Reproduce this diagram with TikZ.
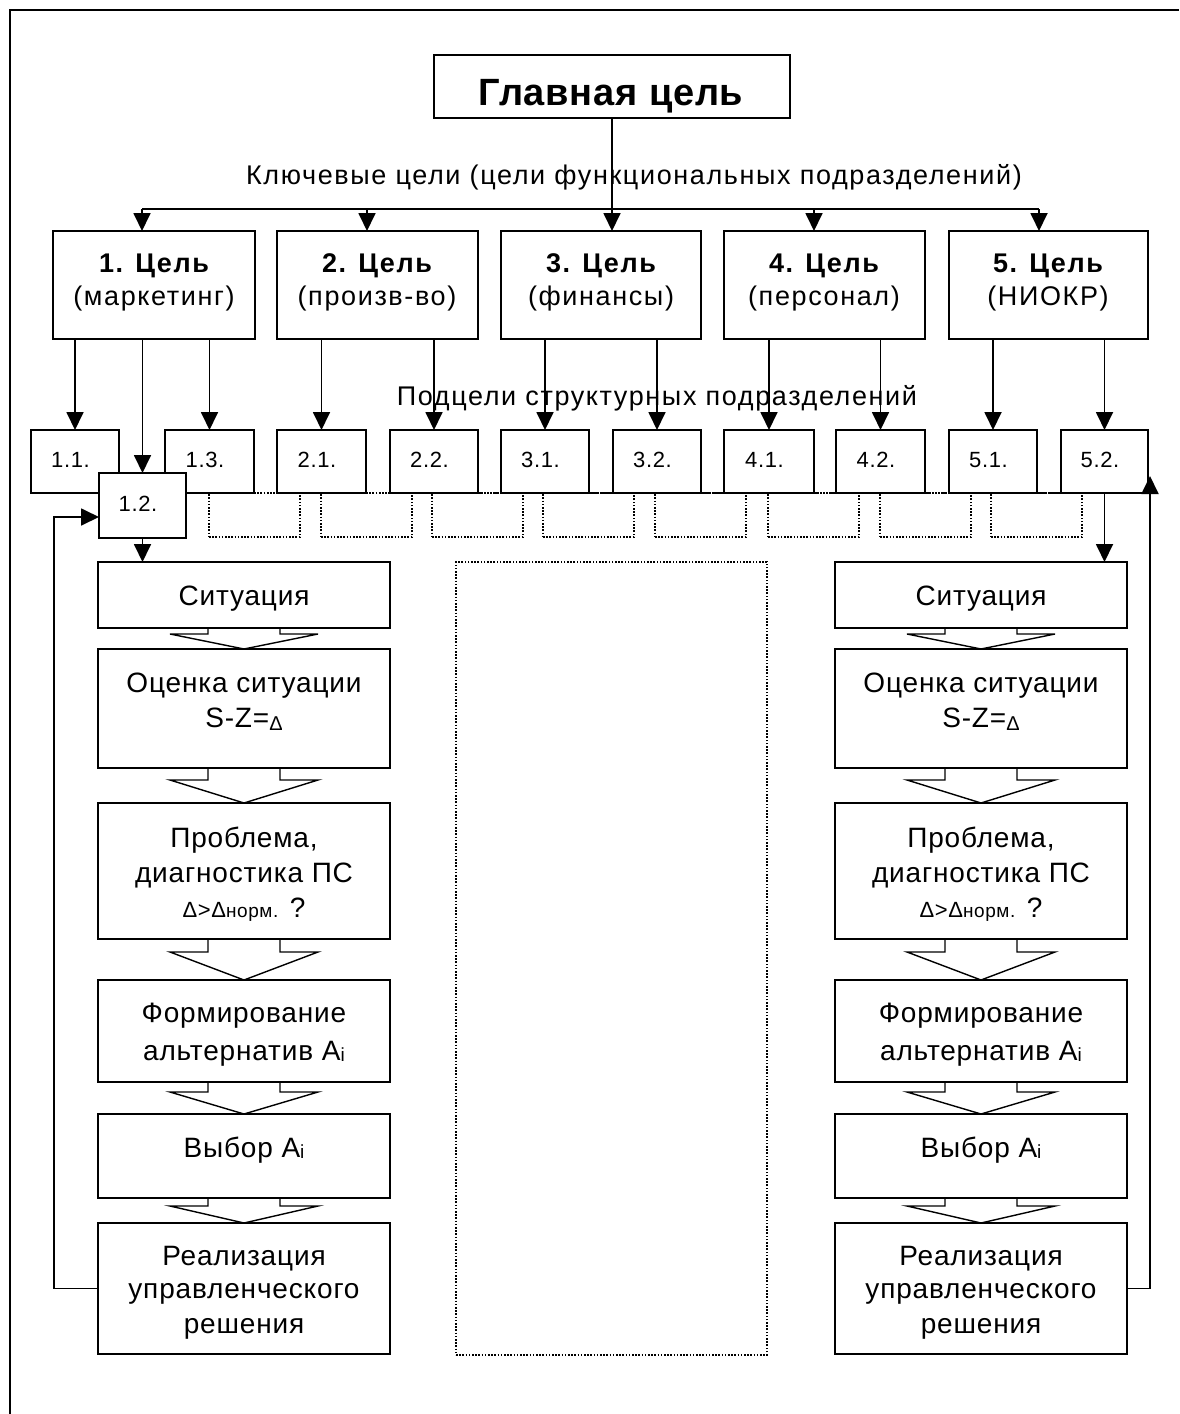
\documentclass[tikz,border=0pt]{standalone}
\usepackage{fontspec}
\setmainfont{Liberation Sans}
\newfontfamily\fkey[LetterSpace=6]{Liberation Sans}
\newfontfamily\fproc[LetterSpace=3]{Liberation Sans}
\newfontfamily\ftitle[LetterSpace=2]{Liberation Sans}
\usetikzlibrary{arrows.meta,calc}
\newcommand\mkbox[7]{\node[#1,minimum width=#5-#3,minimum height=#6-#4,anchor=north west] (#2) at (#3,#4) {#7};}
\newcommand\hollow[3]{\draw[harrow] ($(#1.south)+(-36,0)$) -- ++(0,#3) -- ++(-38,0) -- (#2.north) -- ($(#1.south)+(74,#3)$) -- ++(-38,0) -- ++(0,-#3);}
\newcommand\dsm{\raisebox{-3pt}{\fontsize{20}{20}\selectfont Δ}}
\newcommand\isub{\raisebox{-1pt}{\fontsize{19}{19}\selectfont i}}
\begin{document}
\begin{tikzpicture}[x=1pt,y=-1pt,
  ln/.style={line width=1.8pt},
  arr/.style={ln,-{Triangle[length=18pt,width=17pt]}},
  box/.style={draw,line width=1.8pt,fill=white,inner sep=0pt,outer sep=0pt},
  dbox/.style={draw,line width=1.6pt,dash pattern=on 1.6pt off 1.6pt,inner sep=0pt,outer sep=0pt},
  dline/.style={line width=1.6pt,dash pattern=on 1.6pt off 1.6pt},
  sub/.style={box,text height=11pt,text depth=0pt,font=\fproc\fontsize{22}{26}\selectfont},
  keytxt/.style={inner sep=0pt,anchor=base,font=\fkey\fontsize{27}{31}\selectfont},
  keybold/.style={inner sep=0pt,anchor=base,font=\fkey\bfseries\fontsize{27}{31}\selectfont},
  titletxt/.style={inner sep=0pt,anchor=base,font=\ftitle\bfseries\fontsize{38}{44}\selectfont},
  ptxt/.style={inner sep=0pt,anchor=base,font=\fproc\fontsize{28}{34}\selectfont},
  harrow/.style={line width=1.4pt,line join=miter}]
\useasboundingbox (0,0) rectangle (1179,1414);
\fill[white] (0,0) rectangle (1179,1414);
\draw[ln] (10,1414) -- (10,10) -- (1179,10);

% main goal
\mkbox{box}{main}{434}{55}{790}{118}{}
\node[titletxt] (maint) at (611,105) {Главная цель};

% labels
\node[keytxt] (ktxt) at (634,184) {Ключевые цели (цели функциональных подразделений)};
\node[keytxt] (stxt) at (657,405) {Подцели структурных подразделений};

% key goals
\mkbox{box}{g1}{53}{231}{255}{339}{}
\mkbox{box}{g2}{277}{231}{478}{339}{}
\mkbox{box}{g3}{501}{231}{701}{339}{}
\mkbox{box}{g4}{724}{231}{925}{339}{}
\mkbox{box}{g5}{949}{231}{1148}{339}{}
\node[keybold] (g1a) at (154,272) {1. Цель};
\node[keytxt] (g1b) at (154,305) {(маркетинг)};
\node[keybold] (g2a) at (377,272) {2. Цель};
\node[keytxt] (g2b) at (377,305) {(произв-во)};
\node[keybold] (g3a) at (601,272) {3. Цель};
\node[keytxt] (g3b) at (601,305) {(финансы)};
\node[keybold] (g4a) at (824,272) {4. Цель};
\node[keytxt] (g4b) at (824,305) {(персонал)};
\node[keybold] (g5a) at (1048,272) {5. Цель};
\node[keytxt] (g5b) at (1048,305) {(НИОКР)};

% connectors main -> key goals
\coordinate (b1) at (142,209);
\coordinate (b2) at (367,209);
\coordinate (b4) at (814,209);
\coordinate (b5) at (1039,209);
\draw[ln] (b1) -- (b5);
\draw[arr] (main.south) -- (main.south |- g3.north);
\draw[arr] (b1) -- (b1 |- g1.north);
\draw[arr] (b2) -- (b2 |- g2.north);
\draw[arr] (b4) -- (b4 |- g4.north);
\draw[arr] (b5) -- (b5 |- g5.north);

% dotted boxes
\foreach \i/\xa in {1/209,2/321,3/432,4/543,5/655,6/768,7/880,8/991}
  {\mkbox{dbox}{d\i}{\xa}{493}{\xa+91}{537}{}}
\mkbox{dbox}{big}{456}{562}{767}{1355}{}

% sub goals
\mkbox{sub}{s11}{31}{430}{119}{493}{1.1.\kern9pt}
\mkbox{sub}{s13}{165}{430}{254}{493}{1.3.\kern9pt}
\mkbox{sub}{s21}{277}{430}{366}{493}{2.1.\kern9pt}
\mkbox{sub}{s22}{390}{430}{478}{493}{2.2.\kern9pt}
\mkbox{sub}{s31}{501}{430}{589}{493}{3.1.\kern9pt}
\mkbox{sub}{s32}{613}{430}{701}{493}{3.2.\kern9pt}
\mkbox{sub}{s41}{724}{430}{814}{493}{4.1.\kern9pt}
\mkbox{sub}{s42}{836}{430}{925}{493}{4.2.\kern9pt}
\mkbox{sub}{s51}{949}{430}{1037}{493}{5.1.\kern9pt}
\mkbox{sub}{s52}{1061}{430}{1148}{493}{5.2.\kern9pt}
\draw[dline] (s13.south east) -- (s52.south west);
\mkbox{sub}{s12}{99}{473}{186}{538}{1.2.\kern9pt}

\foreach \s/\g in {s11/g1,s13/g1,s21/g2,s22/g2,s31/g3,s32/g3,s41/g4,s42/g4,s51/g5,s52/g5}
  {\draw[arr] (\s.north |- \g.south) -- (\s.north);}
\draw[arr] (s12.north |- g1.south) -- (s12.north);

% process columns
\foreach \s/\xa/\xb in {L/98/390,R/835/1127}{
  \mkbox{box}{\s1}{\xa}{562}{\xb}{628}{}
  \mkbox{box}{\s2}{\xa}{649}{\xb}{768}{}
  \mkbox{box}{\s3}{\xa}{803}{\xb}{939}{}
  \mkbox{box}{\s4}{\xa}{980}{\xb}{1082}{}
  \mkbox{box}{\s5}{\xa}{1114}{\xb}{1198}{}
  \mkbox{box}{\s6}{\xa}{1223}{\xb}{1354}{}
  \hollow{\s1}{\s2}{6}
  \hollow{\s2}{\s3}{12}
  \hollow{\s3}{\s4}{13}
  \hollow{\s4}{\s5}{10}
  \hollow{\s5}{\s6}{8}
  \node[ptxt] (\s t1) at ($(\s1.north)+(0,43)$) {Ситуация};
  \node[ptxt] (\s t2) at ($(\s2.north)+(0,43)$) {Оценка ситуации};
  \node[ptxt] (\s t3) at ($(\s2.north)+(0,78)$) {S-Z=\dsm};
  \node[ptxt] (\s t4) at ($(\s3.north)+(0,44)$) {Проблема,};
  \node[ptxt] (\s t5) at ($(\s3.north)+(0,79)$) {диагностика ПС};
  \node[ptxt] (\s t6) at ($(\s3.north)+(0,114)$) {{\fontsize{22}{22}\selectfont Δ>Δ}{\fontsize{19}{19}\selectfont норм.} ?};
  \node[ptxt] (\s t7) at ($(\s4.north)+(0,42)$) {Формирование};
  \node[ptxt] (\s t8) at ($(\s4.north)+(0,80)$) {альтернатив A\isub};
  \node[ptxt] (\s t9) at ($(\s5.north)+(0,43)$) {Выбор A\isub};
  \node[ptxt] (\s t10) at ($(\s6.north)+(0,42)$) {Реализация};
  \node[ptxt] (\s t11) at ($(\s6.north)+(0,75)$) {управленческого};
  \node[ptxt] (\s t12) at ($(\s6.north)+(0,110)$) {решения};
}

\draw[arr] (s12.south) -- (s12.south |- L1.north);
\draw[arr] (s52.south) -- (s52.south |- R1.north);

% feedback loops
\coordinate (fbL) at (54,517);
\draw[arr] (L6.west) -| (fbL) -- (fbL -| s12.west);
\coordinate (fbR) at (1150,476);
\draw[arr] (R6.east) -| (fbR);
\end{tikzpicture}
\end{document}
